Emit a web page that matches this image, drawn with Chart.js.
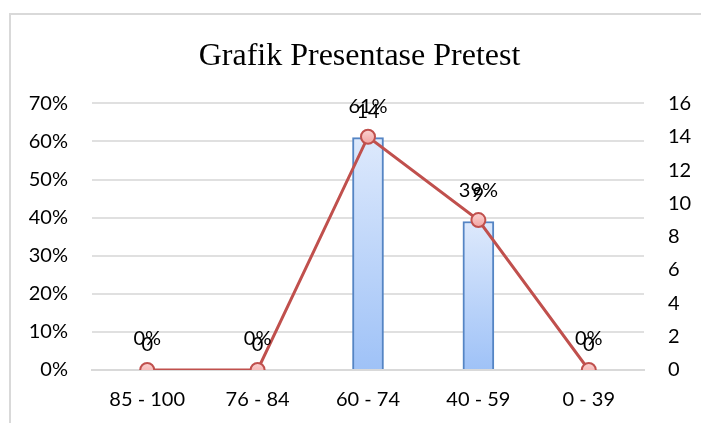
<!DOCTYPE html>
<html>
<head>
<meta charset="utf-8">
<script src="https://cdn.jsdelivr.net/npm/chart.js@4"></script>
<style>
  html, body { margin: 0; padding: 0; background: #fff; }
  #wrap { width: 701px; height: 423px; position: relative; }
</style>
</head>
<body>
<div id="wrap"><canvas id="c" width="701" height="423"></canvas></div>
<script>
const categories = ["85 - 100", "76 - 84", "60 - 74", "40 - 59", "0 - 39"];
const percentValues = [0, 0, 0.61, 0.39, 0];
const countValues = [0, 0, 14, 9, 0];
const titleText = "Grafik Presentase Pretest";

const TICK_FONT = { family: "Lato, 'Open Sans', sans-serif", size: 20 };

const borderPlugin = {
  id: 'frame',
  beforeDraw(chart) {
    const ctx = chart.ctx;
    ctx.save();
    ctx.fillStyle = '#fff';
    ctx.fillRect(0, 0, chart.width, chart.height);
    ctx.strokeStyle = '#d9d9d9';
    ctx.lineWidth = 2;
    ctx.beginPath();
    ctx.moveTo(10, chart.height + 5);
    ctx.lineTo(10, 14);
    ctx.lineTo(chart.width + 5, 14);
    ctx.stroke();
    ctx.restore();
  }
};

const labelPlugin = {
  id: 'valueLabels',
  afterDatasetsDraw(chart) {
    const ctx = chart.ctx;
    const x = chart.scales.x, y = chart.scales.y, y1 = chart.scales.y1;
    ctx.save();
    ctx.font = TICK_FONT.size + "px " + TICK_FONT.family;
    ctx.fillStyle = '#000';
    ctx.textAlign = 'center';
    ctx.textBaseline = 'middle';
    percentValues.forEach((v, i) => {
      const px = x.getPixelForValue(i);
      const py = y.getPixelForValue(v) - 31;
      ctx.fillText(Math.round(v * 100) + '%', px, py);
    });
    countValues.forEach((v, i) => {
      const px = x.getPixelForValue(i);
      const py = y1.getPixelForValue(v) - 25;
      ctx.fillText(String(v), px, py);
    });
    ctx.restore();
  }
};

function barFill(context) {
  const chart = context.chart;
  const area = chart.chartArea;
  if (!area || context.parsed == null) return '#c5dafa';
  const top = chart.scales.y.getPixelForValue(context.parsed.y);
  const bottom = chart.scales.y.getPixelForValue(0);
  if (!(bottom > top)) return '#c5dafa';
  const g = chart.ctx.createLinearGradient(0, top, 0, bottom);
  g.addColorStop(0, '#dde9fc');
  g.addColorStop(1, '#9fc2f7');
  return g;
}

function pointFill(context) {
  const chart = context.chart;
  if (!chart.chartArea || context.parsed == null) return '#f6b9b8';
  const py = chart.scales.y1.getPixelForValue(context.parsed.y);
  const g = chart.ctx.createLinearGradient(0, py - 7, 0, py + 7);
  g.addColorStop(0, '#fbd3d2');
  g.addColorStop(1, '#f2a3a1');
  return g;
}

new Chart(document.getElementById('c'), {
  data: {
    labels: categories,
    datasets: [
      {
        type: 'line',
        label: 'Jumlah',
        data: countValues,
        yAxisID: 'y1',
        order: 0,
        borderColor: '#c0504d',
        borderWidth: 3,
        pointRadius: 7,
        pointBackgroundColor: pointFill,
        pointBorderColor: '#c0504d',
        pointBorderWidth: 2,
        tension: 0
      },
      {
        type: 'bar',
        label: 'Presentase',
        data: percentValues,
        yAxisID: 'y',
        order: 1,
        backgroundColor: barFill,
        borderColor: '#5585c4',
        borderWidth: 2,
        barThickness: 31
      }
    ]
  },
  options: {
    responsive: false,
    animation: false,
    events: [],
    layout: { padding: { left: 18, right: 0, top: 0, bottom: 0 } },
    plugins: {
      legend: { display: false },
      tooltip: { enabled: false },
      title: {
        display: true,
        text: titleText,
        color: '#000',
        font: { family: "'Liberation Serif', 'Times New Roman', serif", size: 32, weight: 'normal' },
        padding: { top: 37, bottom: 28 }
      }
    },
    scales: {
      x: {
        grid: { display: false },
        border: { display: true, color: '#d9d9d9', width: 2 },
        ticks: { color: '#000', font: TICK_FONT, padding: 10, maxRotation: 0 },
        afterFit(s) { s.height = 53; }
      },
      y: {
        position: 'left',
        min: 0, max: 0.7,
        ticks: {
          stepSize: 0.1, color: '#000', font: TICK_FONT, padding: 24,
          callback: (v) => Math.round(v * 100) + '%'
        },
        grid: { color: '#e0e0e0', lineWidth: 2, drawTicks: false },
        border: { display: false },
        afterFit(s) { s.width = 74; }
      },
      y1: {
        position: 'right',
        min: 0, max: 16,
        ticks: { stepSize: 2, color: '#000', font: TICK_FONT, padding: 24 },
        grid: { display: false, drawTicks: false },
        border: { display: false },
        afterFit(s) { s.width = 57; }
      }
    }
  },
  plugins: [borderPlugin, labelPlugin]
});
</script>
</body>
</html>
